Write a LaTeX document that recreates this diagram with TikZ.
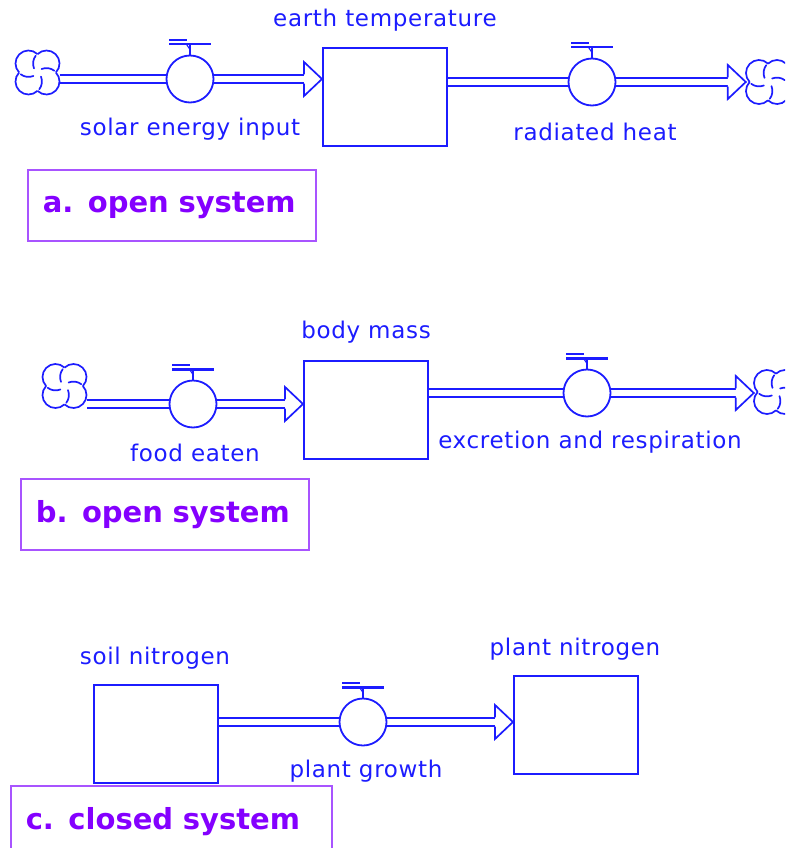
\documentclass[tikz,border=0pt]{standalone}
\usepackage{fontspec}
\setmainfont{DejaVu Sans}[LetterSpace=3]
\newfontfamily\tagfont{DejaVu Sans}
\pgfdeclarelayer{pipes}
\pgfsetlayers{pipes,main}

\definecolor{flowblue}{RGB}{28,28,255}
\definecolor{tagtext}{RGB}{132,0,255}
\definecolor{tagframe}{RGB}{168,84,255}

\tikzset{
  stock/.style={draw=flowblue, fill=white, line width=1.8pt,
    minimum width=124pt, minimum height=98pt, inner sep=0pt, anchor=north west},
  valve/.style={circle, draw=flowblue, fill=white, line width=1.8pt,
    minimum size=47pt, inner sep=0pt},
  pipe/.style={draw=flowblue, line width=1.7pt, double=white, double distance=6pt},
  cloudspot/.style={inner sep=0pt, minimum size=44pt},
  caption/.style={text=flowblue, inner sep=0pt,
    font=\fontsize{23}{27}\selectfont},
  tag/.style={draw=tagframe, line width=1.5pt, text=tagtext, anchor=north west,
    align=left, inner xsep=15pt, inner ysep=0pt, minimum height=71pt,
    font=\tagfont\fontsize{29}{33}\selectfont\bfseries},
  % cloud symbol: four overlapping lobes with a curl inside each
  cloud/.pic={
    \foreach \a in {0,90,180,270}{
      \draw[flowblue, line width=1.7pt, rotate=\a]
        (0,18.4) arc[start angle=133.8, end angle=-43.8, radius=13];
      \draw[flowblue, line width=1.7pt, rotate=\a, line cap=round]
        (16.8,-1.8) arc[start angle=-53, end angle=-112, radius=13];
    }
  },
  % valve handle, placed on top of a valve circle
  handle/.pic={
    \draw[flowblue, line width=1.7pt] (0,0) -- (0,-10);
    \draw[flowblue, line width=2.8pt] (-21,-10.5) -- (21,-10.5);
    \draw[flowblue, line width=1.3pt] (-21,-14.5) -- (-3,-14.5);
    \draw[flowblue, line width=1.1pt] (-4,-11) -- (0,-5);
  },
  % open arrow head at the end of a flow pipe (tip at the origin)
  flowhead/.pic={
    \fill[white] (-18,-17) -- (0,0) -- (-18,17) -- cycle;
    \draw[flowblue, line width=1.7pt, line join=miter]
      (-18,-4.7) -- (-18,-17) -- (0,0) -- (-18,17) -- (-18,4.7);
  }
}

\begin{document}
\begin{tikzpicture}[x=1pt, y=-1pt]
\useasboundingbox (0,0) rectangle (785,848);
\clip (0,0) rectangle (785,848);

% ---------- a. earth temperature ----------
\node[cloudspot] (srcA) at (37.5,72.5) {};
\node[valve] (solar) at (190,79) {};
\node[stock] (earth) at (322,47) {};
\node[valve] (heat) at (592,82) {};
\node[cloudspot] (sinkA) at (768,82) {};
\node[caption] (earthL) at (385,20) {earth temperature};
\node[caption] (solarL) at (190,129) {solar energy input};
\node[caption] (heatL) at (595,132) {radiated heat};
\node[tag, text width=258pt] (tagA) at (27,169) {a. open system};

% ---------- b. body mass ----------
\node[cloudspot] (srcB) at (64.5,386) {};
\node[valve] (food) at (193,404) {};
\node[stock] (body) at (303,360) {};
\node[valve] (excr) at (587,393) {};
\node[cloudspot] (sinkB) at (776,392) {};
\node[caption] (bodyL) at (366,332) {body mass};
\node[caption] (foodL) at (195,453) {food eaten};
\node[caption] (excrL) at (590,442) {excretion and respiration};
\node[tag, text width=258pt] (tagB) at (20,478) {b. open system};

% ---------- c. nitrogen ----------
\node[stock] (soil) at (93,684) {};
\node[valve] (growth) at (363,722) {};
\node[stock] (plant) at (513,675) {};
\node[caption] (soilL) at (155,658) {soil nitrogen};
\node[caption] (plantL) at (575,649) {plant nitrogen};
\node[caption] (growthL) at (366,771) {plant growth};
\node[tag, text width=291pt] (tagC) at (10,785) {c. closed system};

% clouds and valve handles
\foreach \c in {srcA,sinkA,srcB,sinkB} \pic at (\c) {cloud};
\foreach \v in {solar,heat,food,excr,growth} \pic at (\v.north) {handle};

% flow pipes
\begin{pgfonlayer}{pipes}
  \draw[pipe] (srcA.east |- solar) -- (solar);
  \draw[pipe, shorten >=18pt] (solar) -- (earth.west |- solar);
  \draw[pipe] (earth.east |- heat) -- (heat);
  \draw[pipe, shorten >=18pt] (heat) -- (sinkA.west |- heat);

  \draw[pipe] (srcB.east |- food) -- (food);
  \draw[pipe, shorten >=18pt] (food) -- (body.west |- food);
  \draw[pipe] (body.east |- excr) -- (excr);
  \draw[pipe, shorten >=18pt] (excr) -- (sinkB.west |- excr);

  \draw[pipe] (soil.east |- growth) -- (growth);
  \draw[pipe, shorten >=18pt] (growth) -- (plant.west |- growth);
\end{pgfonlayer}

% arrow heads
\pic at (earth.west |- solar) {flowhead};
\pic at (sinkA.west |- heat) {flowhead};
\pic at (body.west |- food) {flowhead};
\pic at (sinkB.west |- excr) {flowhead};
\pic at (plant.west |- growth) {flowhead};
\end{tikzpicture}
\end{document}
